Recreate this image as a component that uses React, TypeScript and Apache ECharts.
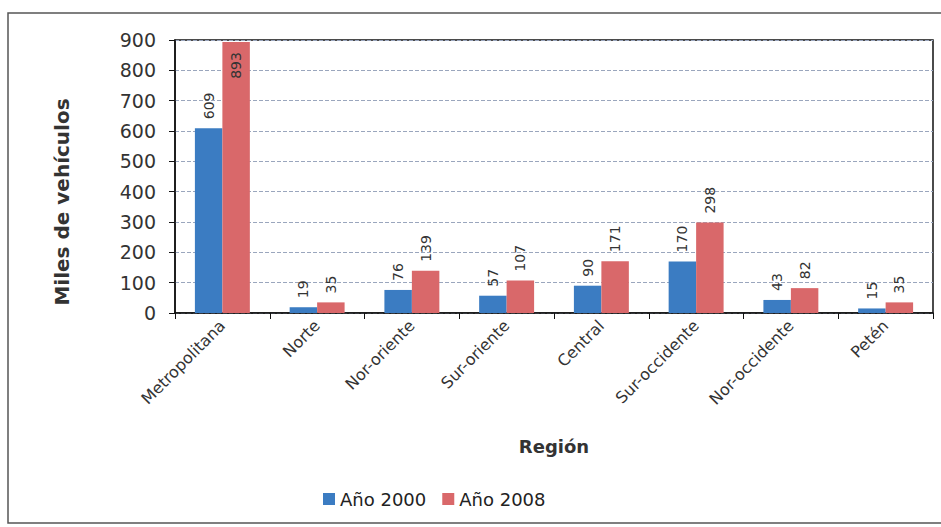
import React, { useEffect, useRef } from "react";
import * as echarts from "echarts";

const regions = [
  "Metropolitana",
  "Norte",
  "Nor-oriente",
  "Sur-oriente",
  "Central",
  "Sur-occidente",
  "Nor-occidente",
  "Petén",
];
const year2000 = [609, 19, 76, 57, 90, 170, 43, 15];
const year2008 = [893, 35, 139, 107, 171, 298, 82, 35];
const seriesNames = ["Año 2000", "Año 2008"];
const yTicks = { min: 0, max: 900, interval: 100 };

const FONT = "DejaVu Sans";

export default function App() {
  const ref = useRef<HTMLDivElement>(null);

  useEffect(() => {
    if (!ref.current) return;
    const chart = echarts.init(ref.current, undefined, { renderer: "svg" });

    const labelBase = {
      show: true,
      position: "top" as const,
      rotate: 90,
      align: "left" as const,
      verticalAlign: "middle" as const,
      distance: 9,
      fontSize: 14,
      fontFamily: FONT,
      color: "#333",
    };

    // Values that reach the top of the plot get their label inside the bar
    const withLabels = (values: number[]) =>
      values.map((v) =>
        v > 850
          ? {
              value: v,
              label: {
                position: "insideTop" as const,
                rotate: 90,
                align: "right" as const,
                verticalAlign: "middle" as const,
                distance: 10,
              },
            }
          : v
      );

    chart.setOption({
      animation: false,
      backgroundColor: "#fff",
      graphic: [
        {
          type: "rect",
          shape: { x: 8, y: 13, width: 940, height: 510 },
          style: { fill: "none", stroke: "#555", lineWidth: 1.5 },
          silent: true,
        },
        {
          type: "text",
          x: 62,
          y: 202,
          rotation: Math.PI / 2,
          style: {
            text: "Miles de vehículos",
            fontFamily: FONT,
            fontSize: 20,
            fontWeight: "bold",
            fill: "#333",
            align: "center",
            verticalAlign: "middle",
          },
          silent: true,
        },
      ],
      grid: {
        left: 175,
        right: 8,
        top: 40,
        bottom: 214,
        show: true,
        borderColor: "#111",
        borderWidth: 1.5,
      },
      legend: {
        left: 318,
        top: 485,
        itemWidth: 12,
        itemHeight: 12,
        itemGap: 16,
        icon: "rect",
        textStyle: { fontFamily: FONT, fontSize: 18, color: "#222" },
        data: seriesNames,
      },
      xAxis: {
        type: "category",
        data: regions,
        name: "Región",
        nameLocation: "middle",
        nameGap: 124,
        nameTextStyle: {
          fontFamily: FONT,
          fontSize: 18,
          fontWeight: "bold",
          color: "#333",
        },
        axisLine: { lineStyle: { color: "#111", width: 1.5 } },
        axisTick: { show: true, length: 6, lineStyle: { color: "#111" } },
        axisLabel: {
          rotate: 45,
          fontFamily: FONT,
          fontSize: 16,
          color: "#333",
          margin: 10,
        },
      },
      yAxis: {
        type: "value",
        min: yTicks.min,
        max: yTicks.max,
        interval: yTicks.interval,
        axisLine: { show: true, lineStyle: { color: "#111", width: 1.5 } },
        axisTick: { show: true, length: 6, lineStyle: { color: "#111" } },
        axisLabel: {
          fontFamily: FONT,
          fontSize: 19,
          color: "#333",
          margin: 19,
        },
        splitLine: {
          lineStyle: { color: "#9aa6bd", type: "dashed", width: 1 },
        },
      },
      series: [
        {
          name: seriesNames[0],
          type: "bar",
          data: withLabels(year2000),
          barGap: "0%",
          barCategoryGap: "42%",
          itemStyle: { color: "#3b7cc2" },
          label: labelBase,
        },
        {
          name: seriesNames[1],
          type: "bar",
          data: withLabels(year2008),
          barGap: "0%",
          barCategoryGap: "42%",
          itemStyle: { color: "#d9686a" },
          label: labelBase,
        },
      ],
    });

    return () => chart.dispose();
  }, []);

  return (
    <div
      ref={ref}
      style={{ position: "fixed", left: 0, top: 0, width: 941, height: 527 }}
    />
  );
}
